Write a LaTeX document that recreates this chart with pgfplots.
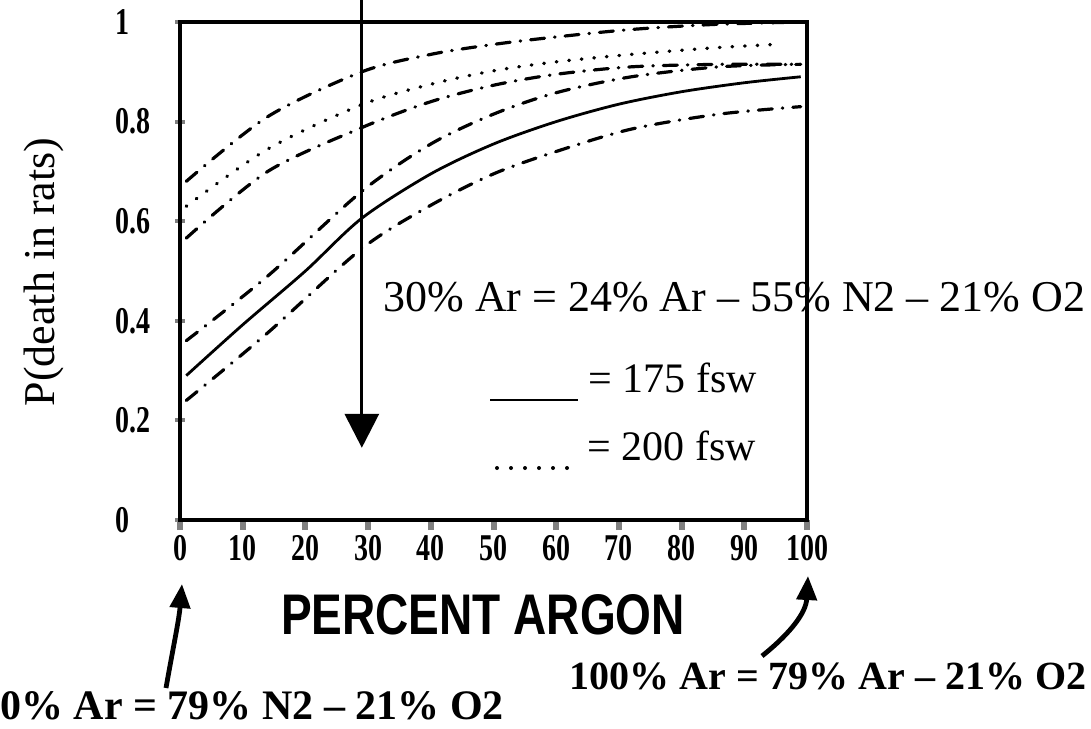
\documentclass[border=0pt]{standalone}
\usepackage{pgfplots}
\pgfplotsset{compat=1.18}
\usepackage{fontspec}
\setmainfont{Liberation Serif}
\newfontfamily\sansfont{Liberation Sans}
\usepackage{graphicx}
\usetikzlibrary{arrows.meta}
\newcommand\tl[1]{\scalebox{1}[1.35]{#1}}
\begin{document}
\begin{tikzpicture}
\useasboundingbox (0,0) rectangle (545.5pt,-364pt);
\begin{axis}[
  at={(90pt,-260pt)}, anchor=south west,
  scale only axis, width=313.5pt, height=249pt,
  xmin=0, xmax=100, ymin=0, ymax=1,
  clip=false,
  axis line style={line width=2.2pt},
  tick align=center, tick pos=left,
  major tick length=5pt,
  xtick={0,10,20,30,40,50,60,70,80,90,100},
  xticklabels={\tl{0},\tl{10},\tl{20},\tl{30},\tl{40},\tl{50},\tl{60},\tl{70},\tl{80},\tl{90},\tl{100}},
  ytick={0,0.2,0.4,0.6,0.8,1},
  yticklabels={\tl{0},\tl{0.2},\tl{0.4},\tl{0.6},\tl{0.8},\tl{1}},
  x tick style={line width=3pt, yshift=-2.5pt},
  y tick style={line width=2pt},
  ticklabel style={font=\fontsize{14}{14}\selectfont\bfseries},
  xticklabel style={anchor=north, inner sep=0pt, yshift=-5pt},
  yticklabel style={anchor=west, inner sep=0pt, xshift=-30pt},
  /pgf/number format/assume math mode=true,
]
% A: top dash-dot
\addplot[smooth, line width=1.6pt, line cap=round, dash pattern=on 7pt off 5pt on 0.3pt off 5pt] coordinates {
(1,0.68) (14,0.81) (29,0.90) (40,0.935) (50,0.955) (60,0.97) (72,0.985) (85,0.995) (99,1.0)};
% B: dotted
\addplot[smooth, line width=1.7pt, line cap=round, dash pattern=on 0.3pt off 6pt] coordinates {
(1,0.63) (14,0.745) (29,0.834) (40,0.875) (50,0.902) (60,0.92) (72,0.935) (85,0.948) (95,0.955)};
% C: dash-dot
\addplot[smooth, line width=1.6pt, line cap=round, dash pattern=on 7pt off 5pt on 0.3pt off 5pt] coordinates {
(1,0.566) (14,0.70) (29,0.788) (40,0.84) (50,0.873) (60,0.895) (72,0.91) (86,0.915) (99,0.915)};
% D: dash-dot
\addplot[smooth, line width=1.6pt, line cap=round, dash pattern=on 7pt off 5pt on 0.3pt off 5pt] coordinates {
(1,0.36) (14,0.49) (29,0.66) (40,0.755) (50,0.815) (60,0.858) (72,0.89) (86,0.91) (99,0.915)};
% E: solid 175 fsw
\addplot[smooth, line width=1.4pt] coordinates {
(1,0.29) (10,0.392) (20,0.50) (29,0.606) (40,0.695) (50,0.755) (60,0.80) (70,0.835) (80,0.86) (90,0.878) (99,0.89)};
% F: lower dash-dot
\addplot[smooth, line width=1.6pt, line cap=round, dash pattern=on 7pt off 5pt on 0.3pt off 5pt] coordinates {
(1,0.24) (14,0.376) (29,0.545) (40,0.632) (50,0.695) (60,0.74) (72,0.785) (86,0.815) (99,0.83)};
% vertical arrow at 30%
\draw[line width=1.6pt, -{Triangle[width=17pt,length=17pt]}] (axis cs:29,1.045) -- (axis cs:29,0.145);
\end{axis}
\begin{scope}[x=0.5pt,y=-0.5pt]
\node[rotate=90, font=\fontsize{22}{22}\selectfont] at (44,272) {P(death in rats)};
\node[anchor=base west, inner sep=0pt, font=\fontsize{22}{22}\selectfont] at (383,311) {30\% Ar = 24\% Ar – 55\% N2 – 21\% O2};
\draw[line width=1.2pt] (490,400) -- (578,400);
\node[anchor=base west, inner sep=0pt, font=\fontsize{21}{21}\selectfont] at (588,392) {= 175 fsw};
\draw[line width=2pt, line cap=round, dash pattern=on 0pt off 7pt] (497,468) -- (578,468);
\node[anchor=base west, inner sep=0pt, font=\fontsize{21}{21}\selectfont] at (587,460) {= 200 fsw};
\node[inner sep=0pt, font=\sansfont\bfseries] at (483,615) {\resizebox{202pt}{20pt}{PERCENT ARGON}};
\draw[line width=2.4pt, -{Triangle[width=10pt,length=12pt]}] (166,688) .. controls (173,648) and (179,620) .. (182,584);
\draw[line width=2.4pt, -{Triangle[width=10pt,length=12pt]}] (762,656) .. controls (792,632) and (806,612) .. (808,576);
\node[anchor=base west, inner sep=0pt, font=\fontsize{21}{21}\selectfont\bfseries] at (0,719) {0\% Ar = 79\% N2 – 21\% O2};
\node[anchor=base east, inner sep=0pt, font=\fontsize{20}{20}\selectfont\bfseries] at (1087,689) {100\% Ar = 79\% Ar – 21\% O2};
\end{scope}
\end{tikzpicture}
\end{document}
